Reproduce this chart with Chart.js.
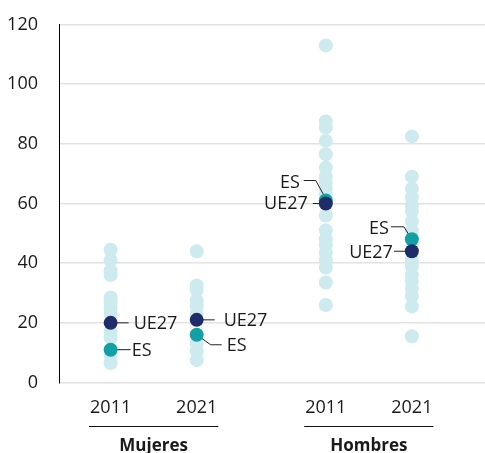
<!DOCTYPE html>
<html>
<head>
<meta charset="utf-8">
<script src="https://cdn.jsdelivr.net/npm/chart.js@4.4.1/dist/chart.umd.min.js"></script>
<style>
  html, body { margin: 0; padding: 0; background: #fff; }
  #wrap { width: 485px; height: 453px; position: relative; }
</style>
</head>
<body>
<div id="wrap"><canvas id="c" width="485" height="453"></canvas></div>
<script>
// ---- Data ----
const categories = ['2011', '2021', '2011', '2021'];
const groups = ['Mujeres', 'Hombres'];
const groupOf = [0, 0, 1, 1];
const yTicks = [0, 20, 40, 60, 80, 100, 120];

const mujeres2011 = [44.5, 41, 37.5, 36, 28.5, 27, 25, 23, 17, 15, 9, 6.5];
const mujeres2021 = [44, 32.5, 31, 27.5, 25.5, 23, 13, 10.5, 7.5];
const hombres2011 = [113, 87.5, 85.5, 81, 76.5, 72, 69, 67, 65, 63, 56, 51, 48, 46, 43.5, 41, 38.5, 33.5, 26];
const hombres2021 = [82.5, 69, 65, 62, 59.5, 57.5, 54, 51, 41, 39, 36, 34, 31.5, 29, 25.5, 15.5];
const countriesByCat = [mujeres2011, mujeres2021, hombres2011, hombres2021];
const ue27 = [20, 21, 60, 44];
const es = [11, 16, 61, 48];
const seriesNames = ['UE27', 'ES'];

// ---- Layout helpers ----
const xPos = categories.map((c, i) => 1 + i + groupOf[i] * 0.5);

const LIGHT = '#cdebef';
const NAVY = '#1e2c69';
const TEAL = '#12a0a5';
const TEXT = '#1a1a1a';
const FONT = '"Open Sans", "Noto Sans", sans-serif';
const FS = 18;

const lightPts = [];
countriesByCat.forEach((arr, i) => arr.forEach(v => lightPts.push({ x: xPos[i], y: v })));
const uePts = ue27.map((v, i) => ({ x: xPos[i], y: v }));
const esPts = es.map((v, i) => ({ x: xPos[i], y: v }));

// annotation geometry (offsets relative to the point, in px)
const annot = {
  UE27: [
    { line: [[0,0],[18,0]], tx: 23, ty: 1, align: 'left' },
    { line: [[0,0],[18,0]], tx: 27, ty: 1, align: 'left' },
    { line: [[0,0],[-13,0]], tx: -18, ty: 0, align: 'right' },
    { line: [[0,0],[-18,0]], tx: -19, ty: 2, align: 'right' }
  ],
  ES: [
    { line: [[0,0],[20,0]], tx: 21, ty: 1, align: 'left' },
    { line: [[0,0],[14,10],[25,10]], tx: 30, ty: 11, align: 'left' },
    { line: [[1,0],[-10,-20],[-22,-20]], tx: -26, ty: -18, align: 'right' },
    { line: [[0,0],[-8,-12.5],[-21,-12.5]], tx: -23, ty: -10, align: 'right' }
  ]
};
const sets = { UE27: ue27, ES: es };

function eachAnnot(chart, fn) {
  const xs = chart.scales.x, ys = chart.scales.y;
  seriesNames.forEach(name => {
    sets[name].forEach((v, i) => {
      fn(name, annot[name][i], xs.getPixelForValue(xPos[i]), ys.getPixelForValue(v));
    });
  });
}

const decor = {
  id: 'decor',
  afterDatasetDraw(chart, args) {
    if (args.index !== 2) return;
    const ctx = chart.ctx;
    ctx.save();
    ctx.strokeStyle = '#222';
    ctx.lineWidth = 1;
    eachAnnot(chart, (name, a, px, py) => {
      ctx.beginPath();
      a.line.forEach((p, k) => {
        if (k === 0) ctx.moveTo(px + p[0], py + p[1]);
        else ctx.lineTo(px + p[0], py + p[1]);
      });
      ctx.stroke();
    });
    ctx.restore();
  },
  afterDatasetsDraw(chart) {
    const ctx = chart.ctx;
    const xs = chart.scales.x;
    ctx.save();
    ctx.fillStyle = TEXT;
    ctx.font = FS + 'px ' + FONT;
    ctx.textBaseline = 'middle';
    eachAnnot(chart, (name, a, px, py) => {
      ctx.textAlign = a.align;
      ctx.fillText(name, px + a.tx, py + a.ty);
    });
    // x category labels and group labels
    const bottom = chart.chartArea.bottom;
    ctx.textAlign = 'center';
    const extents = [];
    categories.forEach((c, i) => {
      const px = xs.getPixelForValue(xPos[i]);
      ctx.font = FS + 'px ' + FONT;
      ctx.fillText(c, px, bottom + 25);
      const w = ctx.measureText(c).width;
      extents.push([px - w / 2, px + w / 2]);
    });
    groups.forEach((g, gi) => {
      const idx = groupOf.map((v, i) => v === gi ? i : -1).filter(i => i >= 0);
      const l = Math.min(...idx.map(i => extents[i][0])) - 1;
      const r = Math.max(...idx.map(i => extents[i][1])) + 1;
      ctx.strokeStyle = '#111';
      ctx.lineWidth = 1.2;
      ctx.beginPath();
      ctx.moveTo(l, bottom + 44);
      ctx.lineTo(r, bottom + 44);
      ctx.stroke();
      ctx.font = 'bold ' + (FS - 1) + 'px ' + FONT;
      ctx.fillText(g, (l + r) / 2, bottom + 64);
    });
    ctx.restore();
  }
};

new Chart(document.getElementById('c'), {
  type: 'scatter',
  data: {
    datasets: [
      { label: 'UE27', data: uePts, backgroundColor: NAVY, borderWidth: 0, pointRadius: 7, pointHoverRadius: 7 },
      { label: 'ES', data: esPts, backgroundColor: TEAL, borderWidth: 0, pointRadius: 7, pointHoverRadius: 7 },
      { label: 'países', data: lightPts, backgroundColor: LIGHT, borderWidth: 0, pointRadius: 7, pointHoverRadius: 7 }
    ]
  },
  options: {
    responsive: false,
    animation: false,
    events: [],
    layout: { autoPadding: false, padding: { top: 24.5, bottom: 70.5, left: 0, right: 0 } },
    plugins: { legend: { display: false }, tooltip: { enabled: false } },
    scales: {
      x: {
        type: 'linear', display: false, min: 0.4, max: 5.35
      },
      y: {
        min: 0, max: 120,
        afterBuildTicks(scale) { scale.ticks = yTicks.map(v => ({ value: v })); },
        afterFit(scale) { scale.width = 59; scale.paddingTop = 0; scale.paddingBottom = 0; },
        grid: { color: '#e2e2e2', lineWidth: 1.5, drawTicks: false },
        border: { display: true, color: '#000', width: 1 },
        ticks: { padding: 21, color: TEXT, font: { family: FONT, size: FS } }
      }
    }
  },
  plugins: [decor]
});
</script>
</body>
</html>
